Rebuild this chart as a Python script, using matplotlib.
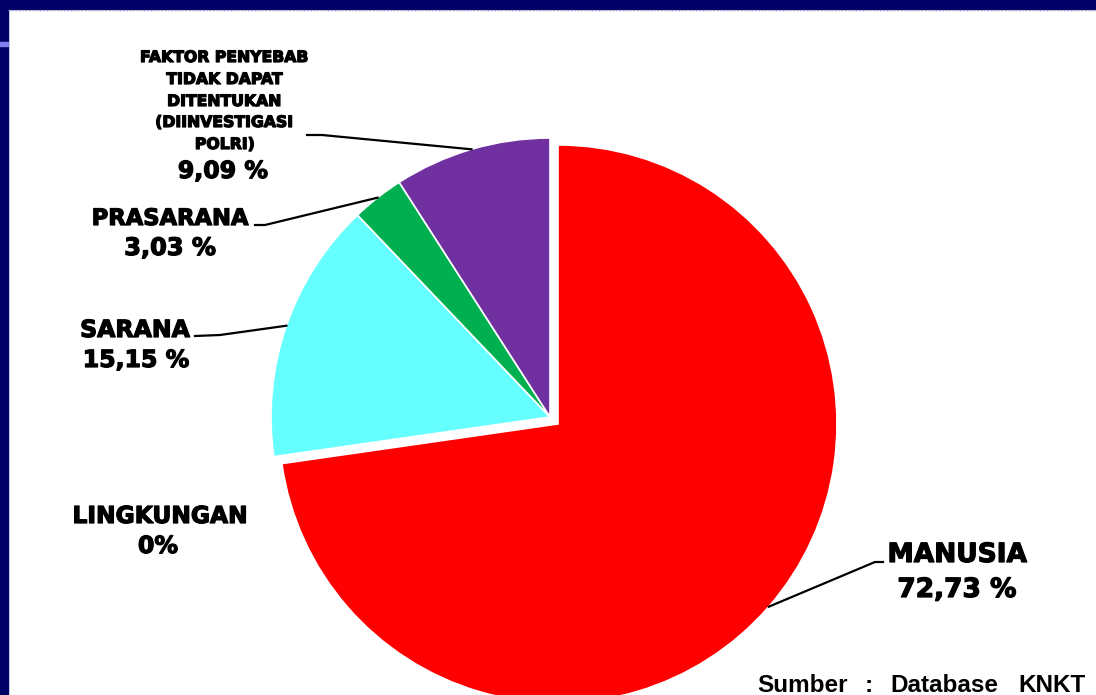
import numpy as np
import matplotlib
matplotlib.use("Agg")
import matplotlib.pyplot as plt
from matplotlib.patches import Rectangle
import matplotlib.patheffects as pe

# ---- data ----
categories = ["MANUSIA", "LINGKUNGAN", "SARANA", "PRASARANA",
              "FAKTOR PENYEBAB TIDAK DAPAT DITENTUKAN (DIINVESTIGASI POLRI)"]
values = [72.73, 0.0, 15.15, 3.03, 9.09]
pct_labels = ["72,73 %", "0%", "15,15 %", "3,03 %", "9,09 %"]
colors = ["#FF0000", "#FFFF00", "#66FFFF", "#00B050", "#7030A0"]
explode_frac = [0.038, 0, 0, 0, 0]
source_words = ["Sumber", ":", "Database", "KNKT"]

W, H = 1096, 695
fig = plt.figure(figsize=(W / 100, H / 100), dpi=100)
fig.patch.set_facecolor("white")
ax = fig.add_axes([0, 0, 1, 1])

CX, CY, R = 550, H - 417, 279
explode = [e * R for e in explode_frac]

wedges, _ = ax.pie(values, colors=colors, startangle=90, counterclock=False,
                   explode=explode, center=(CX, CY), radius=R,
                   wedgeprops=dict(edgecolor="white", linewidth=1.2))
ax.set_xlim(0, W)
ax.set_ylim(0, H)
ax.set_aspect("equal")
ax.axis("off")

NAVY = "#000066"
# slide frame
ax.add_patch(Rectangle((0, H - 9), W, 9, color=NAVY, zorder=5))
ax.add_patch(Rectangle((0, 0), 7.5, H, color=NAVY, zorder=5))
ax.add_patch(Rectangle((0, H - 46), 7.5, 4.5, color="#8080F0", zorder=6))
ax.plot([7.5, W], [H - 9.5, H - 9.5], color="#9090C8", lw=1.0,
        linestyle=(0, (1, 1.5)), zorder=6)


def yy(y):
    return H - y


def arc_point(i):
    w = wedges[i]
    th = np.deg2rad((w.theta1 + w.theta2) / 2)
    cx, cy = w.center
    return cx + w.r * np.cos(th), cy + w.r * np.sin(th)


heavy = [pe.withStroke(linewidth=0.9, foreground="black")]


def txt(x, y, s, size, stroke=True, **kw):
    ax.text(x, yy(y), s, ha="center", va="baseline", fontsize=size,
            fontweight="bold", color="black", family="DejaVu Sans",
            path_effects=heavy if stroke else None, **kw)


# MANUSIA
txt(957, 562, "MANUSIA", 19)
txt(957, 597, pct_labels[0], 19)
px, py = arc_point(0)
ax.plot([883, 875, px], [yy(562), yy(562), py], color="black", lw=1.6, zorder=4)

# LINGKUNGAN
txt(160, 523, "LINGKUNGAN", 16.8)
txt(158, 553, pct_labels[1], 17)

# SARANA
txt(135, 337, "SARANA", 17)
txt(136, 367, pct_labels[2], 17)
px, py = arc_point(2)
ax.plot([195, 220, px], [yy(336), yy(335), py], color="black", lw=1.6, zorder=4)

# PRASARANA
txt(170, 225, "PRASARANA", 16.3)
txt(170, 255, pct_labels[3], 17.3)
px, py = arc_point(3)
ax.plot([255, 265, px], [yy(225), yy(225), py], color="black", lw=1.6, zorder=4)

# FAKTOR
faktor_lines = ["FAKTOR PENYEBAB", "TIDAK DAPAT", "DITENTUKAN", "(DIINVESTIGASI", "POLRI)"]
for s, b in zip(faktor_lines, [62, 84, 106, 127, 149]):
    txt(225, b, s, 11.3)
txt(223, 178, pct_labels[4], 17)
px, py = arc_point(4)
ax.plot([307, 322, px], [yy(135), yy(135), py], color="black", lw=1.6, zorder=4)

# source
src_kw = dict(va="baseline", fontsize=17.5, fontweight="bold",
              family="Liberation Sans", color="black")
ax.text(757, yy(692), source_words[0], ha="left", **src_kw)
ax.text(869, yy(692), source_words[1], ha="center", **src_kw)
ax.text(890, yy(692), source_words[2], ha="left", **src_kw)
ax.text(1086, yy(692), source_words[3], ha="right", **src_kw)

fig.savefig("out.png", dpi=100, facecolor="white")
